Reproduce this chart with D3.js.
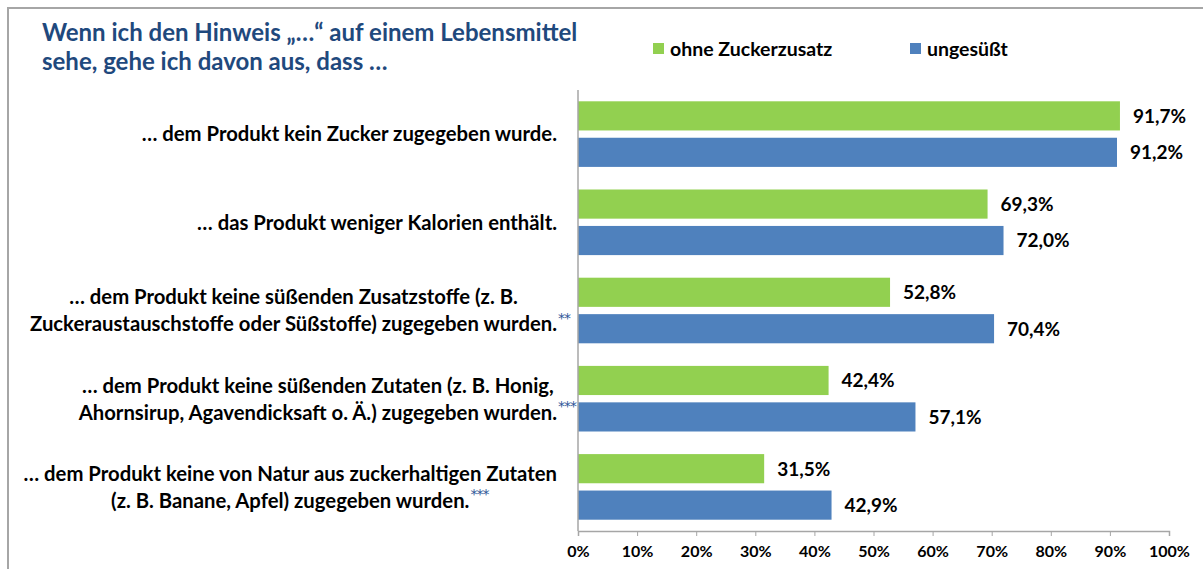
<!DOCTYPE html>
<html>
<head>
<meta charset="utf-8">
<script src="https://cdn.jsdelivr.net/npm/d3@7"></script>
<style>
  body { margin: 0; background: #fff; }
  text { font-family: Lato, "Open Sans", sans-serif; font-weight: bold; }
</style>
</head>
<body>
<div id="chart"></div>
<script>
// data
var categories = ["c1", "c2", "c3", "c4", "c5"]
var labelLines = [
    ["… dem Produkt kein Zucker zugegeben wurde."],
    ["… das Produkt weniger Kalorien enthält."],
    ["… dem Produkt keine süßenden Zusatzstoffe (z. B.", "Zuckeraustauschstoffe oder Süßstoffe) zugegeben wurden."],
    ["… dem Produkt keine süßenden Zutaten (z. B. Honig,", "Ahornsirup, Agavendicksaft o. Ä.) zugegeben wurden."],
    ["… dem Produkt keine von Natur aus zuckerhaltigen Zutaten", "(z. B. Banane, Apfel) zugegeben wurden."]
]
var stars = ["", "", "**", "***", "***"]
var series = ["ohne Zuckerzusatz", "ungesüßt"]
var ohneZucker = [91.7, 69.3, 52.8, 42.4, 31.5]
var ungesuesst = [91.2, 72.0, 70.4, 57.1, 42.9]
var ticks = [0, 10, 20, 30, 40, 50, 60, 70, 80, 90, 100]
var titleLines = ["Wenn ich den Hinweis „…“ auf einem Lebensmittel", "sehe, gehe ich davon aus, dass …"]

var colors = { "ohne Zuckerzusatz": "#92d050", "ungesüßt": "#4f81bd" }
var W = 1203, H = 569

var svg = d3.select("#chart").append("svg")
    .attr("width", W)
    .attr("height", H)

svg.append("rect").attr("width", W).attr("height", H).attr("fill", "#fff")

// outer frame (left and top edges visible)
svg.append("path")
    .attr("d", "M8," + H + "V8H" + W)
    .attr("fill", "none")
    .attr("stroke", "#a6a6a6")
    .attr("stroke-width", 2)

// title
svg.append("g").selectAll("text")
    .data(titleLines)
    .enter().append("text")
    .attr("x", 42)
    .attr("y", function (d, i) { return 41 + i * 29 })
    .attr("fill", "#1f497d")
    .style("font-size", "24px")
    .text(function (d) { return d })

// legend
var legendX = [653, 910]
var lg = svg.append("g").selectAll("g")
    .data(series)
    .enter().append("g")
    .attr("transform", function (d, i) { return "translate(" + legendX[i] + ",43)" })
lg.append("rect")
    .attr("width", 11).attr("height", 11)
    .attr("fill", function (d) { return colors[d] })
lg.append("text")
    .attr("x", 17).attr("y", 6)
    .attr("dy", "0.35em")
    .style("font-size", "19.5px")
    .attr("fill", "#000")
    .text(function (d) { return d })

// scales
var x = d3.scaleLinear().domain([0, 100]).range([578, 1169])
var y = d3.scaleBand().domain(categories).range([90, 531])
var yInner = d3.scaleBand().domain(series).range([0, y.bandwidth()])
    .paddingInner(0.2).paddingOuter(0.31)

var rows = categories.map(function (c, i) {
    return { cat: c, values: [ohneZucker[i], ungesuesst[i]] }
})

var fmt = function (v) { return d3.format(".1f")(v).replace(".", ",") + "%" }

// bars
var grp = svg.append("g").selectAll("g")
    .data(rows)
    .enter().append("g")
    .attr("transform", function (d) { return "translate(0," + y(d.cat) + ")" })

grp.selectAll("rect")
    .data(function (d) { return series.map(function (s, j) { return { s: s, v: d.values[j] } }) })
    .enter().append("rect")
    .attr("x", x(0))
    .attr("y", function (d) { return yInner(d.s) })
    .attr("width", function (d) { return x(d.v) - x(0) })
    .attr("height", yInner.bandwidth())
    .attr("fill", function (d) { return colors[d.s] })

grp.selectAll("text.val")
    .data(function (d) { return series.map(function (s, j) { return { s: s, v: d.values[j] } }) })
    .enter().append("text")
    .attr("class", "val")
    .attr("x", function (d) { return x(d.v) + 13 })
    .attr("y", function (d) { return yInner(d.s) + yInner.bandwidth() / 2 })
    .attr("dy", "0.36em")
    .style("font-size", "19px")
    .text(function (d) { return fmt(d.v) })

// x axis
var xAxis = svg.append("g")
    .attr("transform", "translate(0,531)")
    .call(d3.axisBottom(x).tickValues(ticks).tickSize(5).tickPadding(10)
        .tickFormat(function (d) { return d + "%" }))
xAxis.select(".domain").attr("stroke", "#a6a6a6").attr("stroke-width", 1.5)
xAxis.selectAll(".tick line").attr("stroke", "#a6a6a6")
xAxis.selectAll(".tick text")
    .style("font-size", "16px")
    .style("font-family", "Lato, sans-serif")
    .style("font-weight", "bold")
    .attr("fill", "#000")

// y axis line
svg.append("line")
    .attr("x1", x(0)).attr("x2", x(0))
    .attr("y1", 90).attr("y2", 531)
    .attr("stroke", "#a6a6a6").attr("stroke-width", 1.5)

// category labels: block right-aligned, lines centred inside the block
var labelRight = 557, lineH = 27
labelLines.forEach(function (lines, i) {
    var cy = y(categories[i]) + y.bandwidth() / 2
    var g = svg.append("g")
    var texts = g.selectAll("text")
        .data(lines)
        .enter().append("text")
        .style("font-size", "20.3px")
        .attr("text-anchor", "middle")
        .attr("dy", "0.36em")
        .text(function (d) { return d })
    var widths = []
    texts.each(function () { widths.push(this.getComputedTextLength()) })
    var blockW = d3.max(widths)
    var cx = labelRight - blockW / 2
    var y0 = cy - (lines.length - 1) * lineH / 2
    texts.attr("x", cx).attr("y", function (d, k) { return y0 + k * lineH })
    if (stars[i]) {
        // superscript stars right after the end of the last line
        var last = lines.length - 1
        g.append("text")
            .attr("x", cx + widths[last] / 2 + 1)
            .attr("y", y0 + last * lineH - 1)
            .attr("fill", "#2e5597")
            .style("font-size", "14px")
            .style("letter-spacing", "-1px")
            .style("font-family", "'DejaVu Sans', sans-serif")
            .style("font-weight", "normal")
            .text(stars[i])
    }
})
</script>
</body>
</html>
